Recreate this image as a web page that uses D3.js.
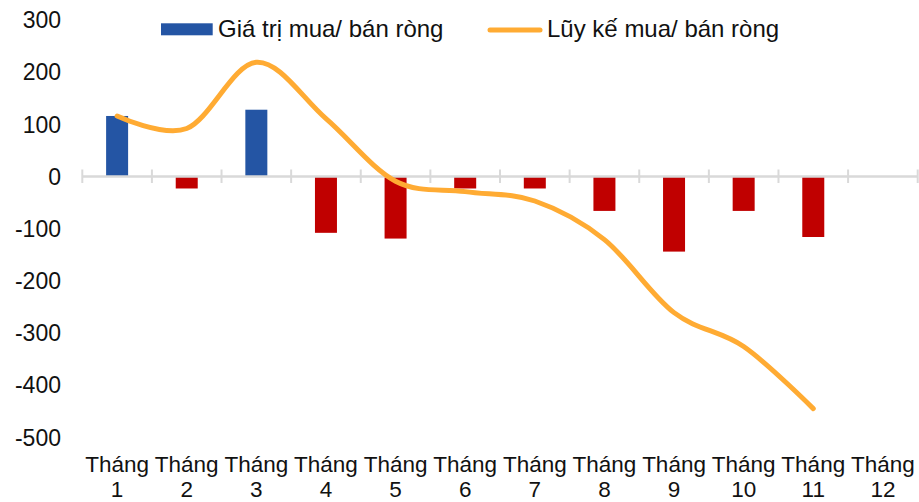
<!DOCTYPE html>
<html>
<head>
<meta charset="utf-8">
<script src="https://cdn.jsdelivr.net/npm/d3@7"></script>
<style>
  html, body { margin: 0; padding: 0; background: #fff; }
  svg { display: block; font-family: "Liberation Sans", Arial, sans-serif; }
</style>
</head>
<body>
<svg id="chart" width="919" height="502"></svg>
<script>
// ---- data ----
const months = ["1","2","3","4","5","6","7","8","9","10","11","12"];
const netValues = [116, -23, 128, -108, -119, -23, -23, -66, -144, -66, -116, null];
const cumulative = [116, 92, 219, 111, -9, -29, -47, -121, -261, -326, -445, null];
const yTicks = [300, 200, 100, 0, -100, -200, -300, -400, -500];
const seriesNames = ["Giá trị mua/ bán ròng", "Lũy kế mua/ bán ròng"];
const monthWord = "Tháng";

// ---- layout ----
const W = 919, H = 502;
const plot = { left: 82.3, right: 917.7, top: 20, bottom: 437.3 };
const colors = { pos: "#2455A4", neg: "#C00000", line: "#FFAB33", axis: "#D9D9D9", text: "#111" };

const svg = d3.select("#chart");

const x = d3.scaleBand().domain(months).range([plot.left, plot.right]).paddingInner(0.684).paddingOuter(0.342);
const xc = d3.scaleBand().domain(months).range([plot.left, plot.right]);
const y = d3.scaleLinear().domain([-500, 300]).range([plot.bottom, plot.top]);

// y labels
svg.append("g").selectAll("text").data(yTicks).join("text")
  .attr("x", 61).attr("y", d => y(d) + 8.2)
  .attr("text-anchor", "end")
  .attr("font-size", 23).attr("fill", colors.text)
  .text(d => d);

// bars
const barData = months.map((m, i) => ({ m, v: netValues[i] })).filter(d => d.v != null);
svg.append("g").selectAll("rect").data(barData).join("rect")
  .attr("x", d => x(d.m))
  .attr("width", x.bandwidth())
  .attr("y", d => y(Math.max(0, d.v)))
  .attr("height", d => Math.abs(y(d.v) - y(0)))
  .attr("fill", d => d.v >= 0 ? colors.pos : colors.neg);

// zero axis with boundary ticks
const axisG = svg.append("g");
axisG.append("line")
  .attr("x1", plot.left).attr("x2", plot.right)
  .attr("y1", y(0)).attr("y2", y(0))
  .attr("stroke", colors.axis).attr("stroke-width", 2.5);
const bounds = months.map(m => xc(m)).concat([plot.right]);
axisG.selectAll("line.tick").data(bounds).join("line")
  .attr("class", "tick")
  .attr("x1", d => d).attr("x2", d => d)
  .attr("y1", y(0) - 7).attr("y2", y(0) + 6.5)
  .attr("stroke", colors.axis).attr("stroke-width", 2);

// x labels (two lines, separate texts)
const xg = svg.append("g").attr("font-size", 22.5).attr("fill", colors.text).attr("text-anchor", "middle");
xg.selectAll("text.l1").data(months).join("text").attr("class", "l1")
  .attr("x", d => xc(d) + xc.bandwidth() / 2).attr("y", 471.5).text(monthWord);
xg.selectAll("text.l2").data(months).join("text").attr("class", "l2")
  .attr("x", d => xc(d) + xc.bandwidth() / 2).attr("y", 497).text(d => d);

// cumulative line
const lineData = months.map((m, i) => ({ m, v: cumulative[i] })).filter(d => d.v != null);
const line = d3.line()
  .x(d => xc(d.m) + xc.bandwidth() / 2)
  .y(d => y(d.v))
  .curve(d3.curveCardinal.tension(0));
svg.append("path").datum(lineData)
  .attr("d", line)
  .attr("fill", "none")
  .attr("stroke", colors.line)
  .attr("stroke-width", 5)
  .attr("stroke-linecap", "round")
  .attr("stroke-linejoin", "round");

// legend
const lg = svg.append("g");
lg.append("rect").attr("x", 161).attr("y", 23.3).attr("width", 51.7).attr("height", 12).attr("fill", colors.pos);
lg.append("text").attr("x", 218).attr("y", 36.7).attr("font-size", 24).attr("fill", colors.text).text(seriesNames[0]);
lg.append("line").attr("x1", 490).attr("x2", 540).attr("y1", 30).attr("y2", 30)
  .attr("stroke", colors.line).attr("stroke-width", 5).attr("stroke-linecap", "round");
lg.append("text").attr("x", 547).attr("y", 36.7).attr("font-size", 24).attr("fill", colors.text).text(seriesNames[1]);
</script>
</body>
</html>
